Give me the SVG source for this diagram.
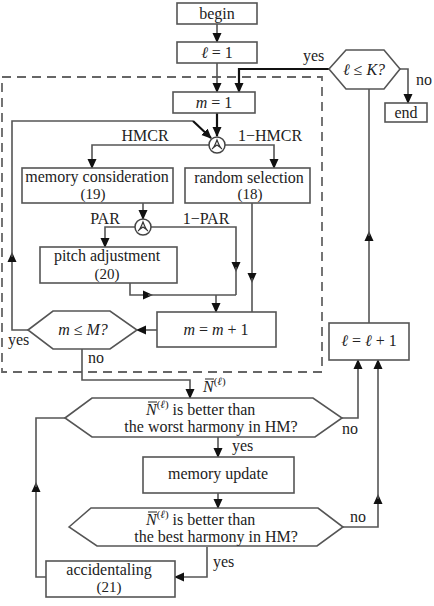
<svg xmlns="http://www.w3.org/2000/svg" width="434" height="606" viewBox="0 0 434 606" font-family="'Liberation Serif', 'DejaVu Serif', serif">
<style>
text{font-family:'Liberation Serif','DejaVu Serif',serif;font-size:16px;fill:#222}
.m{text-anchor:middle}
.i{font-style:italic}
.s{font-size:15px}
.box{fill:#fff;stroke:#555;stroke-width:1.6}
.ln{fill:none;stroke:#555;stroke-width:1.6}
.bk{fill:none;stroke:#111;stroke-width:2.2}
.dash{fill:none;stroke:#666;stroke-width:1.8;stroke-dasharray:9,6}
.sym{fill:none;stroke:#333;stroke-width:1.2}
</style>
<defs>
<marker id="ah" markerWidth="10" markerHeight="10" refX="9" refY="5" orient="auto" markerUnits="userSpaceOnUse">
<path d="M0,0.5 L10,5 L0,9.5 Z" fill="#111"/>
</marker>
<marker id="am" markerWidth="10" markerHeight="10" refX="5" refY="5" orient="auto" markerUnits="userSpaceOnUse">
<path d="M0,0.5 L10,5 L0,9.5 Z" fill="#111"/>
</marker>
</defs>
<rect class="dash" x="2" y="77" width="320" height="295"/>
<g id="connectors">
<path class="ln" d="M217,24 V42" marker-end="url(#ah)"/>
<path class="ln" d="M217,63 V92" marker-end="url(#ah)"/>
<path class="bk" d="M329,69 H239 V92" marker-end="url(#ah)"/>
<path class="ln" d="M400,69 H408 V103" marker-end="url(#ah)"/>
<path class="ln" d="M369,323 V236" marker-end="url(#am)"/>
<path class="ln" d="M369,236 V89"/>
<path class="bk" d="M217,113 V136" marker-end="url(#ah)"/>
<path class="ln" d="M28,330 H12 V257" marker-end="url(#am)"/>
<path class="ln" d="M12,257 V121 H193"/>
<path class="bk" d="M193,121 L211,138" marker-end="url(#ah)"/>
<path class="ln" d="M209,145 H92 V168" marker-end="url(#ah)"/>
<path class="ln" d="M225,145 H274 V168" marker-end="url(#ah)"/>
<path class="ln" d="M143,203 V219" marker-end="url(#ah)"/>
<path class="ln" d="M135,227 H105 V247" marker-end="url(#ah)"/>
<path class="ln" d="M151,227 H236 V267" marker-end="url(#am)"/>
<path class="ln" d="M236,267 V295"/>
<path class="ln" d="M252,203 V278" marker-end="url(#am)"/>
<path class="ln" d="M252,278 V312"/>
<path class="ln" d="M130,283 V295 H148" marker-end="url(#am)"/>
<path class="ln" d="M148,295 H236"/>
<path class="ln" d="M216,295 V312" marker-end="url(#ah)"/>
<path class="ln" d="M157,330 H137" marker-end="url(#ah)"/>
<path class="ln" d="M82,349 V380 H190 V398" marker-end="url(#ah)"/>
<path class="ln" d="M342,418 H358 V360" marker-end="url(#ah)"/>
<path class="ln" d="M218,437 V457" marker-end="url(#ah)"/>
<path class="ln" d="M218,493 V508" marker-end="url(#ah)"/>
<path class="ln" d="M343,527 H378 V499" marker-end="url(#am)"/>
<path class="ln" d="M378,499 V360" marker-end="url(#ah)"/>
<path class="ln" d="M207,547 V577 H175" marker-end="url(#ah)"/>
<path class="ln" d="M46,577 H36 V487" marker-end="url(#am)"/>
<path class="ln" d="M36,487 V418 H65"/>
</g>
<g id="begin"><rect class="box" x="177" y="3" width="80" height="21"/><text class="m" x="217" y="19">begin</text></g>
<g id="l1"><rect class="box" x="177" y="42" width="80" height="21"/><text class="m i" x="217" y="58">ℓ <tspan font-style="normal">= 1</tspan></text></g>
<g id="m1"><rect class="box" x="173" y="92" width="82" height="21"/><text class="m i" x="214" y="108">m <tspan font-style="normal">= 1</tspan></text></g>
<g id="lK"><path class="box" d="M329,69 L346,50 H384 L400,69 L384,89 H346 Z"/><text class="m i" x="364" y="75">ℓ <tspan font-style="normal">≤</tspan> K?</text></g>
<g id="end"><rect class="box" x="385" y="103" width="42" height="19"/><text class="m" x="406" y="118">end</text></g>
<g id="sw1"><circle cx="217" cy="145" r="8" fill="#fff" stroke="#444" stroke-width="1.5"/><path class="sym" d="M212,149 Q214,148 217,140 Q220,148 222,149 M213.5,147.5 L217,145 L220.5,147.5"/></g>
<g id="memcons"><rect class="box" x="22" y="168" width="151" height="35"/><text class="m" x="97" y="182">memory consideration</text><text class="m s" x="93" y="199">(19)</text></g>
<g id="randsel"><rect class="box" x="185" y="168" width="125" height="35"/><text class="m" x="249" y="183">random selection</text><text class="m s" x="250" y="199">(18)</text></g>
<g id="sw2"><circle cx="143" cy="227" r="8" fill="#fff" stroke="#444" stroke-width="1.5"/><path class="sym" d="M138,231 Q140,230 143,222 Q146,230 148,231 M139.5,229.5 L143,227 L146.5,229.5"/></g>
<g id="pitch"><rect class="box" x="40" y="247" width="137" height="36"/><text class="m" x="107" y="261">pitch adjustment</text><text class="m s" x="107" y="279">(20)</text></g>
<g id="mm1"><rect class="box" x="157" y="312" width="119" height="35"/><text class="m i" x="216" y="335">m <tspan font-style="normal">=</tspan> m <tspan font-style="normal">+ 1</tspan></text></g>
<g id="mM"><path class="box" d="M28,330 L53,311 H110 L137,330 L110,349 H53 Z"/><text class="m i" x="83" y="335">m <tspan font-style="normal">≤</tspan> M?</text></g>
<g id="lpl"><rect class="box" x="329" y="323" width="80" height="37"/><text class="m i" x="369" y="346">ℓ <tspan font-style="normal">=</tspan> ℓ <tspan font-style="normal">+ 1</tspan></text></g>
<g id="worst"><path class="box" d="M65,418 L92,398 H313 L342,418 L315,437 H92 Z"/>
<text x="146" y="415" class="i">N<tspan font-size="11" dy="-7" font-style="normal">(</tspan><tspan font-size="11">ℓ</tspan><tspan font-size="11" font-style="normal">)</tspan><tspan dy="7" font-style="normal"> is better than</tspan></text>
<path d="M148,402 H157" stroke="#222" stroke-width="1"/>
<text class="m" x="211" y="432">the worst harmony in HM?</text></g>
<g id="memupd"><rect class="box" x="143" y="457" width="151" height="36"/><text class="m" x="218" y="479">memory update</text></g>
<g id="best"><path class="box" d="M69,527 L91,508 H318 L343,527 L317,546 H97 Z"/>
<text x="146" y="525" class="i">N<tspan font-size="11" dy="-7" font-style="normal">(</tspan><tspan font-size="11">ℓ</tspan><tspan font-size="11" font-style="normal">)</tspan><tspan dy="7" font-style="normal"> is better than</tspan></text>
<path d="M148,512 H157" stroke="#222" stroke-width="1"/>
<text class="m" x="216" y="542">the best harmony in HM?</text></g>
<g id="accid"><rect class="box" x="46" y="561" width="129" height="36"/><text class="m" x="109" y="575">accidentaling</text><text class="m s" x="109" y="592">(21)</text></g>
<g id="labels">
<text x="303" y="61">yes</text>
<text x="416" y="85">no</text>
<text class="m" x="145" y="141">HMCR</text>
<text class="m" x="270" y="141">1−HMCR</text>
<text class="m" x="105" y="224">PAR</text>
<text class="m" x="206" y="224">1−PAR</text>
<text x="8" y="345">yes</text>
<text x="88" y="363">no</text>
<text x="203" y="392" class="i">N<tspan font-size="11" dy="-7" font-style="normal">(</tspan><tspan font-size="11">ℓ</tspan><tspan font-size="11" font-style="normal">)</tspan></text>
<path d="M205,379 H214" stroke="#222" stroke-width="1"/>
<text x="342" y="434">no</text>
<text x="232" y="451">yes</text>
<text x="350" y="522">no</text>
<text x="213" y="567">yes</text>
</g>
</svg>
